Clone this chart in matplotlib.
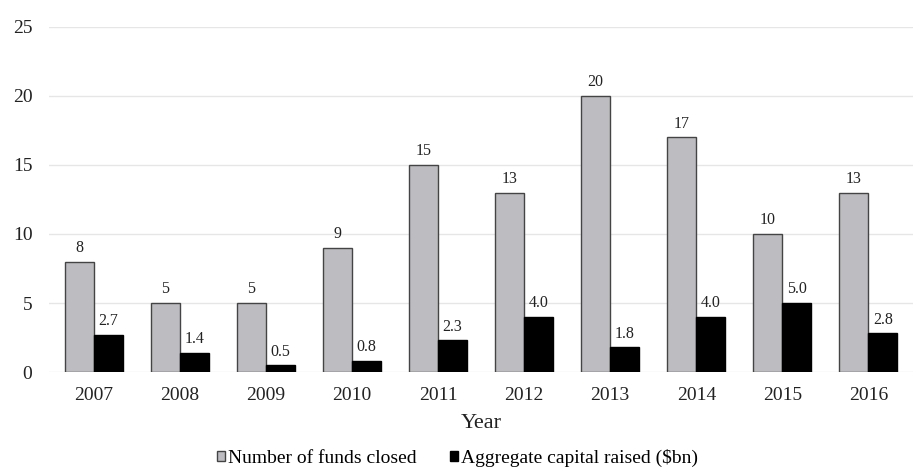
import numpy as np
import matplotlib.pyplot as plt

years = ['2007', '2008', '2009', '2010', '2011', '2012', '2013', '2014', '2015', '2016']
funds_closed = [8, 5, 5, 9, 15, 13, 20, 17, 10, 13]
capital_raised = [2.7, 1.4, 0.5, 0.8, 2.3, 4.0, 1.8, 4.0, 5.0, 2.8]

plt.rcParams['font.family'] = ['Liberation Serif', 'DejaVu Serif']

fig = plt.figure(figsize=(9.15, 4.71), dpi=100)
ax = fig.add_axes([0.0536, 0.21, 0.9444, 0.733])

x = np.arange(len(years))
w = 0.337
b1 = ax.bar(x - w / 2, funds_closed, w, color='#bdbdc1', edgecolor='#444444',
            linewidth=1.0, label='Number of funds closed', zorder=3)
b2 = ax.bar(x + w / 2, capital_raised, w, color='black', edgecolor='black',
            linewidth=1.0, label='Aggregate capital raised ($bn)', zorder=3)

for rect, v in zip(b1, funds_closed):
    ax.annotate('%d' % v, (rect.get_x() + rect.get_width() / 2, rect.get_height()),
                xytext=(0, 4), textcoords='offset points', ha='center', va='bottom',
                fontsize=11.5, color='#222222')
for rect, v in zip(b2, capital_raised):
    ax.annotate('%.1f' % v, (rect.get_x() + rect.get_width() / 2, rect.get_height()),
                xytext=(0, 4), textcoords='offset points', ha='center', va='bottom',
                fontsize=11.5, color='#222222')

ax.set_xlim(-0.52, 9.52)
ax.set_ylim(0, 25)
ax.set_yticks([0, 5, 10, 15, 20, 25])
ax.set_xticks(x)
ax.set_xticklabels(years)
ax.tick_params(axis='both', length=0, labelsize=14, colors='#222222')
ax.tick_params(axis='x', pad=11)
ax.tick_params(axis='y', pad=12)
ax.grid(axis='y', color='#e6e6e6', linewidth=1.0, zorder=0)
for s in ax.spines.values():
    s.set_visible(False)
ax.set_xlabel('Year', fontsize=16, color='#222222', labelpad=7)

fig.legend(loc='center', bbox_to_anchor=(0.5, 0.028), ncol=2, frameon=False,
           fontsize=14, handlelength=0.42, handleheight=0.42, handletextpad=0.15,
           columnspacing=1.7, borderpad=0.2)

fig.savefig('out.png', dpi=100)
